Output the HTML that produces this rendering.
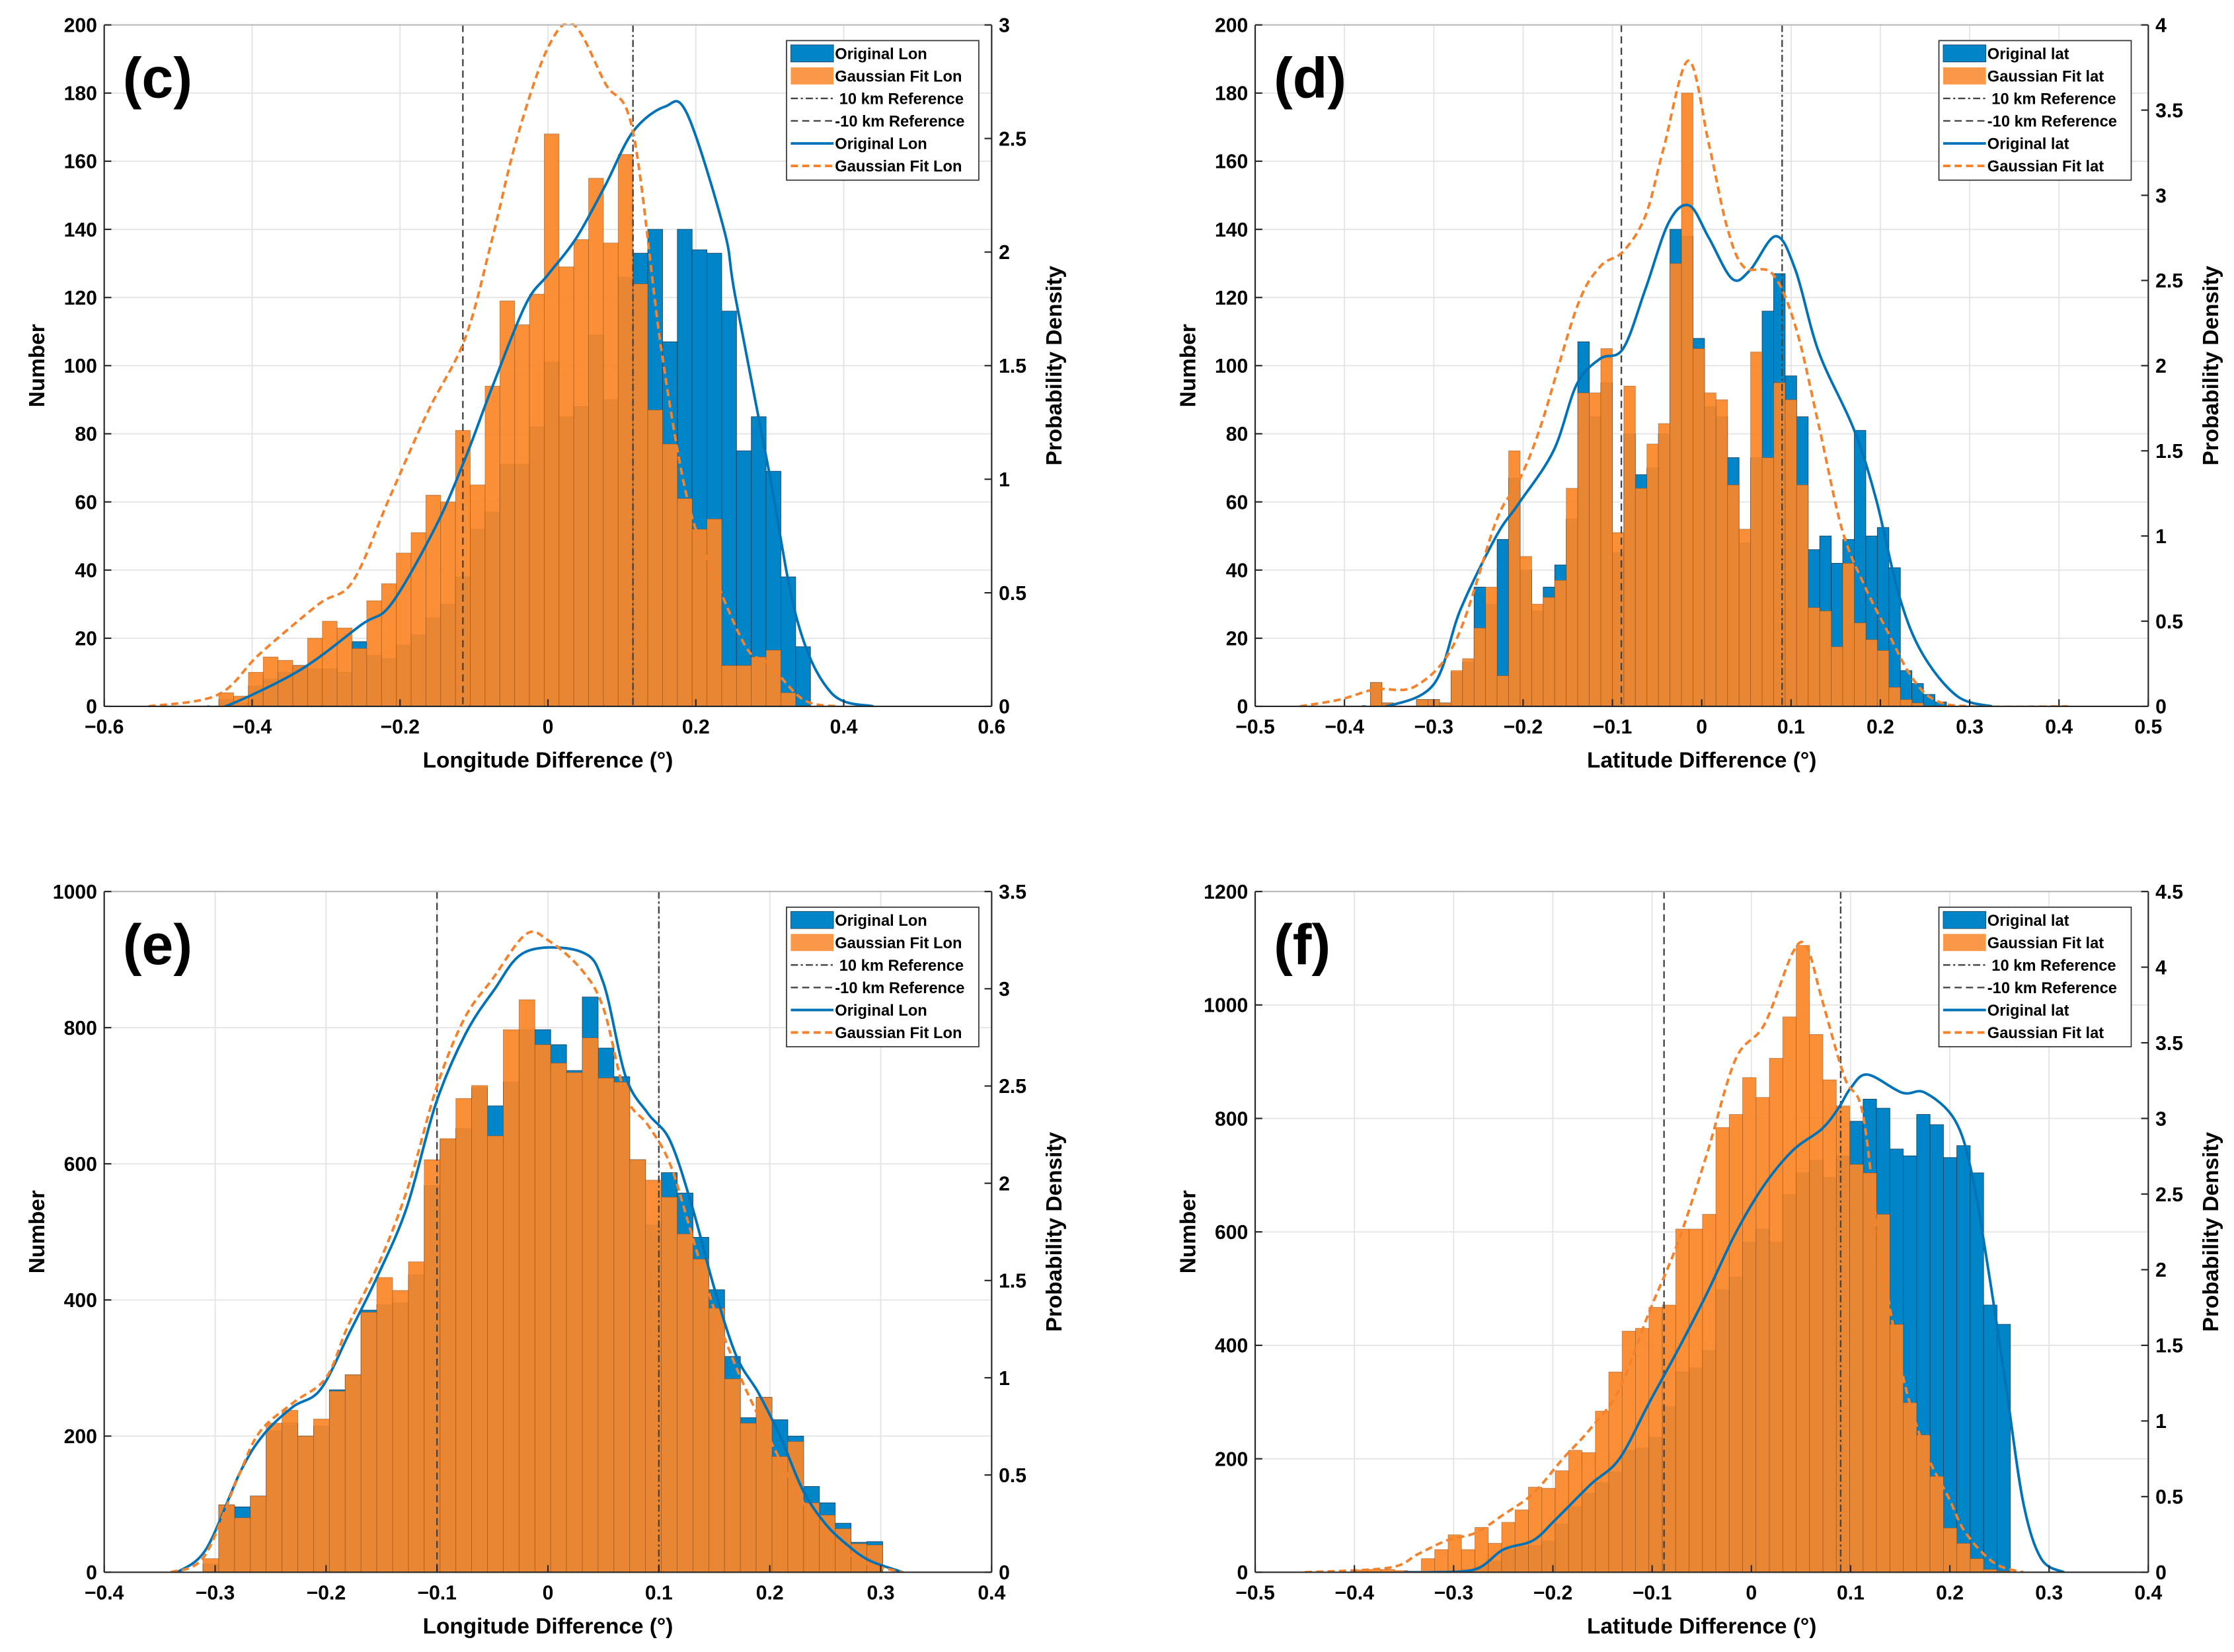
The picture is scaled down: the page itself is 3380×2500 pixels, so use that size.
<!DOCTYPE html>
<html><head><meta charset="utf-8"><style>
html,body{margin:0;padding:0;background:#fff;}
svg{display:block;font-family:"Liberation Sans",Arial,sans-serif;}
</style></head><body>
<svg id="fig" xmlns="http://www.w3.org/2000/svg" width="3380" height="2500" viewBox="0 0 1568 1160"></svg>
<script>
// ---------- data (c) ----------
const cOrange = [4,3,10,14.5,13.5,12,20,25,23,17,31,36,45,51,62,60,81,65,94,119,112,121,168,129,137,155,136,162,124,87,77,61,52,55,12,12,14.5,16.5,4,0];
const cBlue   = [2,1,6,8,10,12,11,11,10,19,15,14,18,21,26,30,38,52,57,71,71,82,101,85,88,109,90,126,133,140,107,140,134,133,116,75,85,69,38,17.5];
const cBlueLineX = [-0.46,-0.436,-0.335,-0.252,-0.212,-0.152,-0.112,-0.076,-0.03,0.0,0.038,0.077,0.115,0.158,0.188,0.238,0.253,0.298,0.337,0.383,0.44];
const cBlueLineY = [0,0,0.16,0.36,0.45,0.79,1.09,1.40,1.77,1.9,2.06,2.29,2.53,2.64,2.61,2.1,1.81,1.05,0.38,0.06,0];
const cOrangeLineX = [-0.54,-0.447,-0.39,-0.31,-0.264,-0.214,-0.162,-0.112,-0.076,-0.042,0.0,0.035,0.078,0.115,0.153,0.188,0.222,0.268,0.298,0.345,0.39];
const cOrangeLineY = [0,0.05,0.23,0.45,0.55,0.92,1.3,1.62,2.05,2.5,2.9,3.0,2.74,2.53,1.58,0.92,0.6,0.26,0.19,0.03,0];
// ---------- data (d) ----------
const dOrange = [7,1,0,0,2,2,1,10.5,14,23,35,9,75,44,30,32,37,64,92,92,105,51,94,64,77,83,130,180,105,92,90,65,52,104,73,95,90,65,29,28,17.5,42,24.5,19.6,16.4,5.6,2,1,0,0];
const dBlue   = [7,1,0,0,2,2,1,10,13,35,30,49,67,40,28,35,41.5,55,107,85,95,45,80,68,70,80,140,138,108,88,85,73,48,73,116,127,97,85,46,50,42,49,81,50,52.5,40.7,10.5,6.7,3.5,1.3];
const dBlueLineX = [-0.38,-0.353,-0.30,-0.27,-0.23,-0.205,-0.166,-0.14,-0.114,-0.088,-0.063,-0.037,-0.014,0.008,0.034,0.054,0.083,0.105,0.131,0.17,0.195,0.221,0.247,0.286,0.325];
const dBlueLineY = [0,0,0.13,0.57,1.0,1.19,1.5,1.89,2.04,2.1,2.45,2.84,2.94,2.75,2.51,2.56,2.76,2.56,2.08,1.63,1.22,0.65,0.31,0.06,0];
const dOrangeLineX = [-0.45,-0.405,-0.366,-0.32,-0.275,-0.23,-0.205,-0.18,-0.14,-0.114,-0.088,-0.063,-0.043,-0.015,0.008,0.028,0.047,0.079,0.105,0.131,0.157,0.183,0.208,0.234,0.26,0.3,0.41];
const dOrangeLineY = [0,0.04,0.1,0.12,0.39,1.09,1.32,1.65,2.34,2.58,2.67,2.88,3.27,3.79,3.3,2.82,2.58,2.54,2.23,1.65,1.04,0.7,0.44,0.18,0.04,0,0];
// ---------- data (e) ----------
const eOrange = [20,99,80,112,219,238,200,225,266,290,382,433,414,456,606,637,696,715,641,797,841,775,748,734,785,726,720,606,576,551,497,460,388,284,219,257,170,192,102,84,64,42,40];
const eBlue   = [12,99,96,112,208,219,200,215,268,290,385,393,396,437,568,636,652,712,685,720,797,797,775,737,845,770,728,606,510,587,557,492,415,317,227,257,224,200,126,102,72,44,45];
const eBlueLineX = [-0.334,-0.308,-0.277,-0.256,-0.23,-0.205,-0.179,-0.153,-0.127,-0.101,-0.075,-0.049,-0.02,0.03,0.05,0.07,0.09,0.11,0.13,0.15,0.17,0.19,0.21,0.23,0.25,0.27,0.29,0.32];
const eBlueLineY = [0,0.12,0.52,0.71,0.85,0.94,1.23,1.53,1.88,2.41,2.76,2.99,3.19,3.19,3.03,2.55,2.36,2.22,1.88,1.46,1.11,0.92,0.69,0.42,0.25,0.14,0.06,0];
const eOrangeLineX = [-0.34,-0.31,-0.28,-0.26,-0.23,-0.2,-0.18,-0.15,-0.125,-0.1,-0.075,-0.05,-0.02,0.0,0.03,0.05,0.07,0.09,0.11,0.13,0.15,0.17,0.19,0.21,0.23,0.25,0.27,0.29,0.32];
const eOrangeLineY = [0,0.08,0.48,0.72,0.87,1.0,1.27,1.62,2.0,2.5,2.85,3.05,3.28,3.25,3.1,2.9,2.45,2.3,2.1,1.73,1.35,1.05,0.8,0.57,0.36,0.2,0.1,0.04,0];
// ---------- data (f) ----------
const fOrange = [4,5,5,3,2,24,40,66,40,79,51,88,110,150,148,179,215,211,284,353,425,430,467,471,605,605,631,784,807,872,837,906,979,1105,948,868,822,719,704,631,437,299,242,169,78,51,24,5,2];
const fBlue   = [0,0,0,0,0,0,0,3,5,10,20,40,45,47,55,85,116,139,158,177,215,219,238,292,353,360,391,498,520,582,605,582,666,704,726,696,734,795,834,818,746,734,807,789,731,752,704,471,437];
const fBlueLineX = [-0.35,-0.324,-0.278,-0.25,-0.22,-0.197,-0.162,-0.133,-0.103,-0.074,-0.045,-0.016,0.013,0.042,0.071,0.088,0.1,0.117,0.152,0.175,0.205,0.222,0.24,0.257,0.274,0.292,0.315];
const fBlueLineY = [0,0,0.02,0.15,0.21,0.35,0.58,0.75,1.12,1.47,1.84,2.24,2.56,2.79,2.93,3.07,3.2,3.29,3.17,3.17,2.99,2.64,1.95,1.21,0.46,0.09,0];
const fOrangeLineX = [-0.45,-0.365,-0.336,-0.307,-0.278,-0.25,-0.22,-0.19,-0.162,-0.133,-0.103,-0.074,-0.045,-0.016,0.013,0.042,0.056,0.071,0.094,0.112,0.129,0.152,0.175,0.199,0.216,0.245,0.274];
const fOrangeLineY = [0,0.03,0.12,0.21,0.26,0.38,0.52,0.75,0.95,1.21,1.72,2.18,2.76,3.39,3.62,4.1,4.13,3.79,3.27,3.04,2.18,1.32,0.81,0.49,0.26,0.06,0];

const NS = 'http://www.w3.org/2000/svg';
const svg = document.getElementById('fig');
function mk(tag, attrs, parent){
  const e = document.createElementNS(NS, tag);
  for (const k in attrs) e.setAttribute(k, attrs[k]);
  parent.appendChild(e);
  return e;
}
function smooth(pts){
  let d = 'M' + pts[0][0].toFixed(2) + ',' + pts[0][1].toFixed(2);
  for (let i = 0; i < pts.length - 1; i++){
    const p0 = pts[Math.max(0,i-1)], p1 = pts[i], p2 = pts[i+1], p3 = pts[Math.min(pts.length-1,i+2)];
    const c1x = p1[0] + (p2[0]-p0[0])/6, c1y = p1[1] + (p2[1]-p0[1])/6;
    const c2x = p2[0] - (p3[0]-p1[0])/6, c2y = p2[1] - (p3[1]-p1[1])/6;
    d += ' C' + c1x.toFixed(2) + ',' + c1y.toFixed(2) + ' ' + c2x.toFixed(2) + ',' + c2y.toFixed(2) + ' ' + p2[0].toFixed(2) + ',' + p2[1].toFixed(2);
  }
  return d;
}
function fmt(v){ return (Math.abs(v) < 1e-9 ? '0' : String(+v.toFixed(2))).replace('-', '\u2212'); }

const panels = [
 {id:'c', L:73, R:696, T:17.5, B:496, xmin:-0.6, xmax:0.6, xstep:0.2, ymax:200, ystep:20, dmax:3, start:-0.445, w:0.02, orange:cOrange, blue:cBlue, bl:[cBlueLineX,cBlueLineY], ol:[cOrangeLineX,cOrangeLineY], refs:[-0.115,0.115], xt:'Longitude Difference (°)', s:'Lon', legX:552},
 {id:'d', L:881, R:1508, T:17.5, B:496, xmin:-0.5, xmax:0.5, xstep:0.1, ymax:200, ystep:20, dmax:4, start:-0.371, w:0.0129, orange:dOrange, blue:dBlue, bl:[dBlueLineX,dBlueLineY], ol:[dOrangeLineX,dOrangeLineY], refs:[-0.09,0.09], xt:'Latitude Difference (°)', s:'lat', legX:1361},
 {id:'e', L:73, R:696, T:626, B:1104, xmin:-0.4, xmax:0.4, xstep:0.1, ymax:1000, ystep:200, dmax:3.5, start:-0.311, w:0.01425, orange:eOrange, blue:eBlue, bl:[eBlueLineX,eBlueLineY], ol:[eOrangeLineX,eOrangeLineY], refs:[-0.1,0.1], xt:'Longitude Difference (°)', s:'Lon', legX:552},
 {id:'f', L:881, R:1508, T:626, B:1104, xmin:-0.5, xmax:0.4, xstep:0.1, ymax:1200, ystep:200, dmax:4.5, start:-0.40, w:0.01349, orange:fOrange, blue:fBlue, bl:[fBlueLineX,fBlueLineY], ol:[fOrangeLineX,fOrangeLineY], refs:[-0.088,0.09], xt:'Latitude Difference (°)', s:'lat', legX:1361}
];

panels.forEach(p => {
  const g = mk('g', {}, svg);
  
  
  const xs = v => p.L + (v - p.xmin) / (p.xmax - p.xmin) * (p.R - p.L);
  const ys = v => p.B - v / p.ymax * (p.B - p.T);
  const yd = v => p.B - v / p.dmax * (p.B - p.T);

  const clip = mk('clipPath', {id:'clip-' + p.id}, g);
  mk('rect', {x:p.L, y:p.T - 1, width:p.R - p.L, height:p.B - p.T + 1}, clip);

  const grid = mk('g', {stroke:'#e3e3e3', 'stroke-width':0.8}, g);
  
  
  for (let v = p.ystep; v <= p.ymax + 1e-9; v += p.ystep) mk('line', {x1:p.L, x2:p.R, y1:ys(v), y2:ys(v)}, grid);
  const nx = Math.round((p.xmax - p.xmin) / p.xstep);
  for (let i = 1; i < nx; i++){ const x = xs(p.xmin + i * p.xstep); mk('line', {x1:x, x2:x, y1:p.T, y2:p.B}, grid); }

  const bb = mk('g', {fill:'#0086c8', stroke:'#1d3c55', 'stroke-width':0.4}, g);
  
  
  p.blue.forEach((v, i) => {
    if (v <= 0) return;
    const x0 = p.start + i * p.w;
    const r = mk('rect', {x:xs(x0), y:ys(v), width:xs(x0 + p.w) - xs(x0), height:p.B - ys(v)}, bb);
    
    
  });
  const ob = mk('g', {fill:'#fa8628', 'fill-opacity':0.93, stroke:'#8a4a1a', 'stroke-opacity':0.55, 'stroke-width':0.4}, g);
  
  
  p.orange.forEach((v, i) => {
    if (v <= 0) return;
    const x0 = p.start + i * p.w;
    const r = mk('rect', {x:xs(x0), y:ys(v), width:xs(x0 + p.w) - xs(x0), height:p.B - ys(v)}, ob);
    
    
  });

  const rn = mk('line', {x1:xs(p.refs[0]), x2:xs(p.refs[0]), y1:p.T, y2:p.B, stroke:'#444', 'stroke-width':1.1, 'stroke-dasharray':'5,3'}, g);
  
  
  const rp = mk('line', {x1:xs(p.refs[1]), x2:xs(p.refs[1]), y1:p.T, y2:p.B, stroke:'#444', 'stroke-width':1.1, 'stroke-dasharray':'5,2,1.5,2'}, g);
  
  

  const bpts = p.bl[0].map((x, i) => [xs(x), yd(p.bl[1][i])]);
  const bc = mk('path', {d:smooth(bpts), fill:'none', stroke:'#0072b8', 'stroke-width':1.8, 'clip-path':'url(#clip-' + p.id + ')'}, g);
  
  
  const opts = p.ol[0].map((x, i) => [xs(x), yd(p.ol[1][i])]);
  const oc = mk('path', {d:smooth(opts), fill:'none', stroke:'#f5822a', 'stroke-width':1.8, 'stroke-dasharray':'5,3', 'clip-path':'url(#clip-' + p.id + ')'}, g);
  
  

  const ax = mk('g', {stroke:'#262626', 'stroke-width':1, fill:'none'}, g);
  
  
  mk('line', {x1:p.L, x2:p.L, y1:p.T, y2:p.B}, ax);
  mk('line', {x1:p.R, x2:p.R, y1:p.T, y2:p.B}, ax);
  mk('line', {x1:p.L, x2:p.R, y1:p.B, y2:p.B}, ax);
  mk('line', {x1:p.L, x2:p.R, y1:p.T, y2:p.T, stroke:'#bbb'}, ax);

  const tl = mk('g', {'font-size':14, 'font-weight':'bold', fill:'#000'}, g);
  
  
  for (let v = 0; v <= p.ymax + 1e-9; v += p.ystep){
    const y = ys(v);
    mk('line', {x1:p.L, x2:p.L + 5, y1:y, y2:y, stroke:'#262626'}, tl);
    const t = mk('text', {x:p.L - 5, y:y + 5, 'text-anchor':'end'}, tl);
    t.textContent = fmt(v);
    
    
  }
  for (let v = 0; v <= p.dmax + 1e-9; v += 0.5){
    const y = yd(v);
    mk('line', {x1:p.R - 5, x2:p.R, y1:y, y2:y, stroke:'#262626'}, tl);
    const t = mk('text', {x:p.R + 5, y:y + 5, 'text-anchor':'start'}, tl);
    t.textContent = fmt(v);
    
    
  }
  for (let i = 0; i <= nx; i++){
    const v = p.xmin + i * p.xstep, x = xs(v);
    mk('line', {x1:x, x2:x, y1:p.B, y2:p.B - 5, stroke:'#262626'}, tl);
    const t = mk('text', {x:x, y:p.B + 19, 'text-anchor':'middle'}, tl);
    t.textContent = fmt(v);
    
    
  }
  const xt = mk('text', {x:(p.L + p.R) / 2, y:p.B + 43, 'text-anchor':'middle', 'font-size':15.5, 'font-weight':'bold'}, g);
  xt.textContent = p.xt;
  
  
  const yt = mk('text', {x:0, y:0, 'text-anchor':'middle', 'font-size':15.5, 'font-weight':'bold', transform:'translate(' + (p.L - 42) + ',' + ((p.T + p.B) / 2) + ') rotate(-90)'}, g);
  yt.textContent = 'Number';
  
  
  const yt2 = mk('text', {x:0, y:0, 'text-anchor':'middle', 'font-size':15.5, 'font-weight':'bold', transform:'translate(' + (p.R + 49) + ',' + ((p.T + p.B) / 2) + ') rotate(-90)'}, g);
  yt2.textContent = 'Probability Density';
  
  

  const pl = mk('text', {x:p.L + 13, y:p.T + 51, 'font-size':40, 'font-weight':'bold'}, g);
  pl.textContent = '(' + p.id + ')';
  
  

  const lg = mk('g', {}, g);
  
  
  const lx = p.legX, ly = p.T + 11;
  mk('rect', {x:lx, y:ly, width:135, height:98, fill:'#fff', stroke:'#333', 'stroke-width':0.8}, lg);
  const labels = ['Original ' + p.s, 'Gaussian Fit ' + p.s, '10 km Reference', '-10 km Reference', 'Original ' + p.s, 'Gaussian Fit ' + p.s];
  labels.forEach((txt, i) => {
    const cy = ly + 9 + i * 15.8;
    if (i === 0) mk('rect', {x:lx + 3, y:cy - 6, width:30, height:12, fill:'#0086c8', stroke:'#1d3c55', 'stroke-width':0.4}, lg);
    if (i === 1) mk('rect', {x:lx + 3, y:cy - 6, width:30, height:12, fill:'#fa8628', 'fill-opacity':0.85}, lg);
    if (i === 2) mk('line', {x1:lx + 3, x2:lx + 33, y1:cy, y2:cy, stroke:'#444', 'stroke-width':1.1, 'stroke-dasharray':'5,2,1.5,2'}, lg);
    if (i === 3) mk('line', {x1:lx + 3, x2:lx + 33, y1:cy, y2:cy, stroke:'#444', 'stroke-width':1.1, 'stroke-dasharray':'5,3'}, lg);
    if (i === 4) mk('line', {x1:lx + 3, x2:lx + 33, y1:cy, y2:cy, stroke:'#0072b8', 'stroke-width':1.8}, lg);
    if (i === 5) mk('line', {x1:lx + 3, x2:lx + 33, y1:cy, y2:cy, stroke:'#f5822a', 'stroke-width':1.8, 'stroke-dasharray':'5,3'}, lg);
    const t = mk('text', {x:(i === 2 ? lx + 37 : lx + 34), y:cy + 4, 'font-size':11, 'font-weight':'bold'}, lg);
    t.textContent = txt;
    
    
  });
});
</script>
</body></html>
